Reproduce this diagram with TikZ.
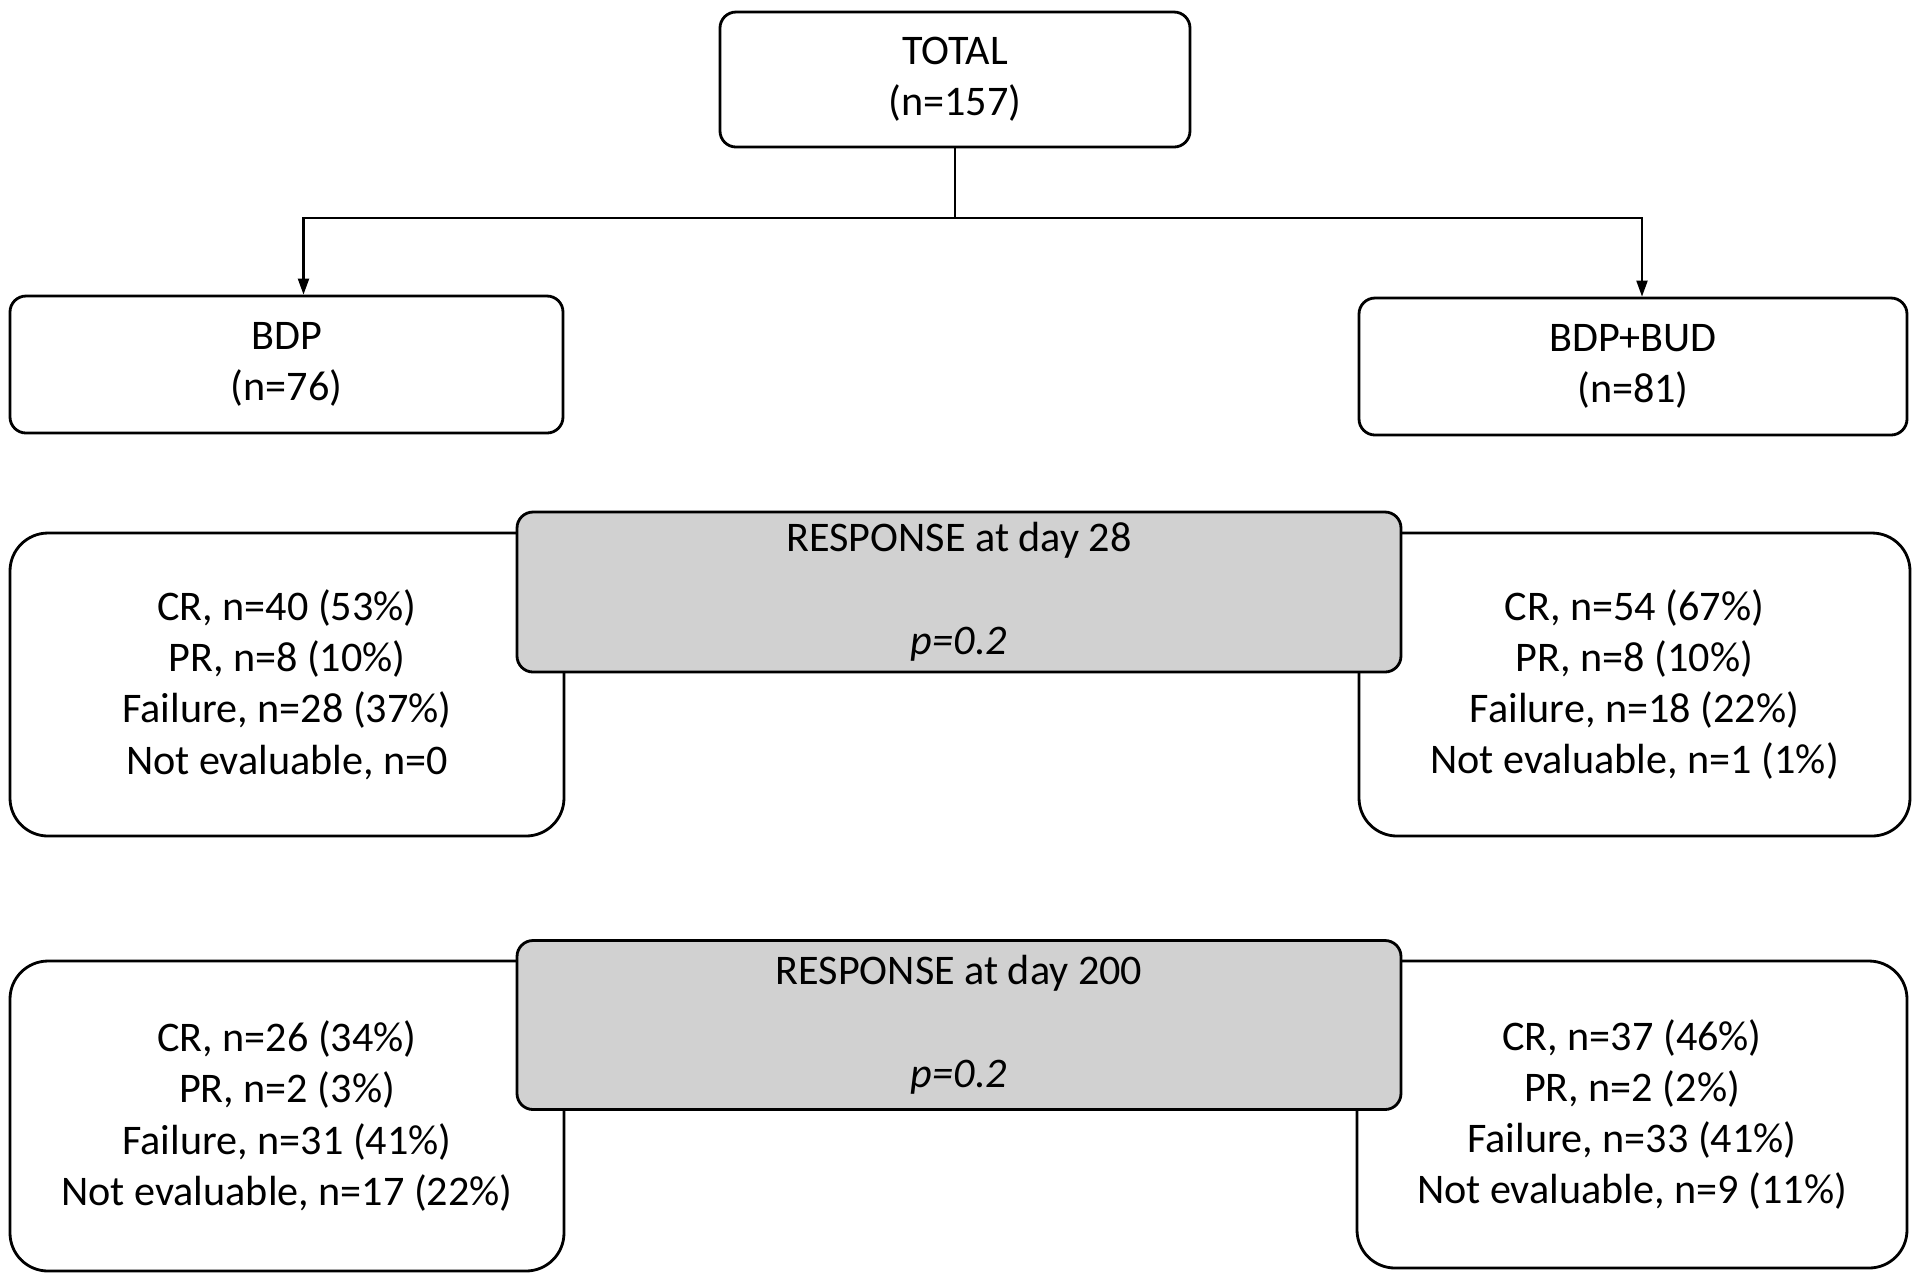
\documentclass[tikz,border=0pt]{standalone}
\usepackage{fontspec}
\setmainfont{Carlito}
\usetikzlibrary{arrows.meta}

\begin{document}
\begin{tikzpicture}[x=0.1mm,y=-0.1mm,
  font=\fontsize{12}{14.6}\selectfont,
  box/.style={draw, rectangle, rounded corners=1.6mm, line width=0.8pt, align=center, inner sep=0pt},
  resbox/.style={draw, rectangle, rounded corners=3.8mm, line width=0.8pt, align=center, inner sep=0pt, fill=white},
  pbox/.style={draw, rectangle, rounded corners=1.6mm, line width=0.8pt, align=center, inner sep=0pt, fill=black!18}]
\useasboundingbox (0,0) rectangle (1920,1279);

\node[box, minimum width=47mm, minimum height=13.5mm] (total) at (955,79.5) {TOTAL\\(n=157)};
\node[box, minimum width=55.3mm, minimum height=13.7mm] (bdp) at (286.5,364.5) {BDP\\(n=76)};
\node[box, minimum width=54.8mm, minimum height=13.7mm] (bdpbud) at (1633,366.5) {BDP+BUD\\(n=81)};

\coordinate (split) at (955,218);
\draw[line width=0.6pt] (total) -- (split);
\draw[line width=0.6pt, -{Triangle[length=1.6mm,width=1.1mm]}] (split) -| ([xshift=1.7mm]bdp.north);
\draw[line width=0.6pt, -{Triangle[length=1.6mm,width=1.1mm]}] (split) -| ([xshift=0.9mm]bdpbud.north);

\node[resbox, minimum width=55.4mm, minimum height=30.3mm] (bdp28) at (287,684.5)
  {CR, n=40 (53\%)\\PR, n=8 (10\%)\\Failure, n=28 (37\%)\\Not evaluable, n=0};
\node[resbox, minimum width=55.1mm, minimum height=30.3mm] (bud28) at (1634.5,684.5)
  {CR, n=54 (67\%)\\PR, n=8 (10\%)\\Failure, n=18 (22\%)\\Not evaluable, n=1 (1\%)};
\node[pbox, minimum width=88.4mm, minimum height=16mm] (resp28) at (959,592)
  {RESPONSE at day 28\\[14.6pt]\textit{p=0.2}};

\node[resbox, minimum width=55.4mm, minimum height=31mm] (bdp200) at (287,1116)
  {CR, n=26 (34\%)\\PR, n=2 (3\%)\\Failure, n=31 (41\%)\\Not evaluable, n=17 (22\%)};
\node[resbox, minimum width=55mm, minimum height=30.7mm] (bud200) at (1632,1114.5)
  {CR, n=37 (46\%)\\PR, n=2 (2\%)\\Failure, n=33 (41\%)\\Not evaluable, n=9 (11\%)};
\node[pbox, minimum width=88.4mm, minimum height=16.9mm] (resp200) at (959,1025)
  {RESPONSE at day 200\\[14.6pt]\textit{p=0.2}};
\end{tikzpicture}
\end{document}
